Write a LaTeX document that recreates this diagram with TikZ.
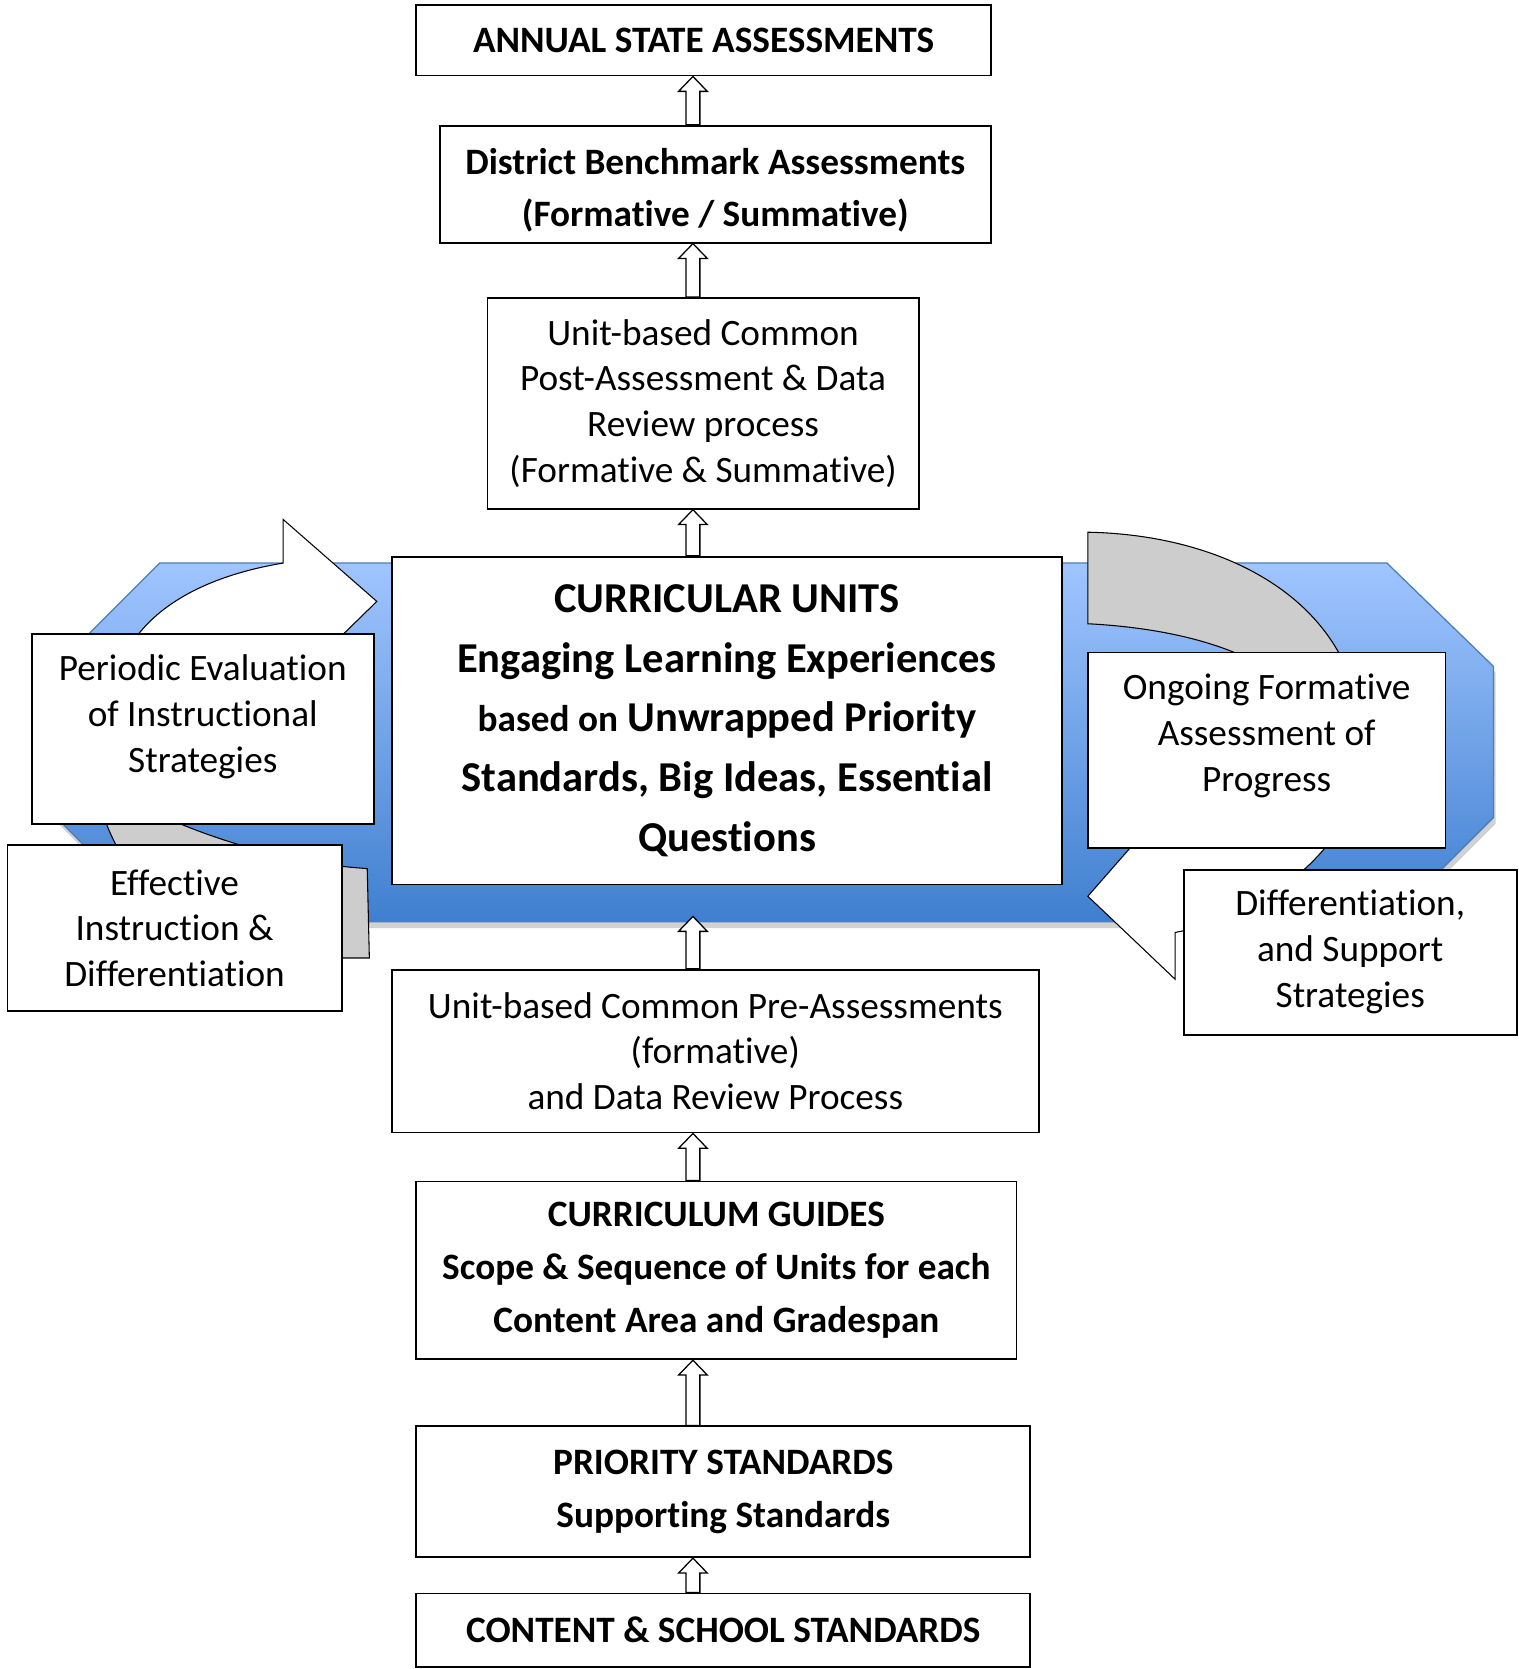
\documentclass[tikz,border=0pt]{standalone}
\usepackage{fontspec}
\setmainfont{Carlito}[Ligatures={NoCommon,NoContextual}]
\usetikzlibrary{calc,backgrounds}

\definecolor{bandtop}{RGB}{160,197,255}
\definecolor{bandbottom}{RGB}{63,127,207}
\definecolor{bandline}{RGB}{74,126,187}
\definecolor{backarc}{RGB}{205,205,205}

\begin{document}
\begin{tikzpicture}[x=1pt,y=1pt,
    every node/.style={font=\fontsize{35}{43}\selectfont},
    level/.style={rectangle,draw,line width=1.7pt,fill=white,align=center,inner sep=0pt},
    headline/.style={level,font=\fontsize{35}{49.5}\selectfont\bfseries},
    side/.style={rectangle,draw,line width=1.7pt,fill=white,align=center,inner sep=0pt},
    hollow/.style={draw,line width=1.2pt,fill=white,
        to path={let \p1=(\tikztostart), \p2=(\tikztotarget) in
            (\x1-6.5pt,\y1) -- (\x1-6.5pt,\y2-14pt) -- (\x1-13.5pt,\y2-14pt) -- (\x1,\y2)
            -- (\x1+13.5pt,\y2-14pt) -- (\x1+6.5pt,\y2-14pt) -- (\x1+6.5pt,\y1) -- cycle}},
    backpart/.style={draw,line width=1pt,fill=backarc},
    frontpart/.style={draw,line width=1pt,fill=white}
]
\useasboundingbox (0,0) rectangle (1427,-1568);

% Assessment levels
\node[headline,minimum width=540pt,minimum height=66pt] (annual) at (661,-38) {ANNUAL STATE ASSESSMENTS};
\node[headline,minimum width=518pt,minimum height=110pt] (district) at (672,-173) {\rule{0pt}{36pt}District Benchmark Assessments\\(Formative / Summative)};
\node[level,minimum width=405pt,minimum height=198pt] (post) at (660.5,-379) {Unit-based Common\\Post-Assessment \& Data\\Review process\\(Formative \& Summative)};

% Curricular units
\node[level,minimum width=630pt,minimum height=308pt,font=\fontsize{40}{56}\selectfont\bfseries] (units) at (683,-677)
    {CURRICULAR UNITS\\Engaging Learning Experiences\\{\fontsize{35}{56}\selectfont based on} Unwrapped Priority\\Standards, Big Ideas, Essential\\Questions};

% Curriculum levels
\node[level,minimum width=608pt,minimum height=153pt] (pre) at (672,-987.5) {Unit-based Common Pre-Assessments\\(formative)\\and Data Review Process};
\node[headline,minimum width=564pt,minimum height=167pt] (guides) at (673,-1193.5) {CURRICULUM GUIDES\\Scope \& Sequence of Units for each\\Content Area and Gradespan};
\node[headline,minimum width=577pt,minimum height=123pt] (priority) at (679.5,-1401.5) {PRIORITY STANDARDS\\Supporting Standards};
\node[headline,minimum width=577pt,minimum height=69pt] (content) at (679.5,-1531.5) {CONTENT \& SCHOOL STANDARDS};

% Cycle boxes
\node[side,minimum width=321pt,minimum height=178pt] (periodic) at (190.5,-685) {Periodic Evaluation\\of Instructional\\Strategies\rule[-29pt]{0pt}{29pt}};
\node[side,minimum width=314pt,minimum height=156pt] (effective) at (164,-872) {Effective\\Instruction \&\\Differentiation};
\node[side,minimum width=336pt,minimum height=184pt] (ongoing) at (1190,-705) {Ongoing Formative\\Assessment of\\Progress\rule[-33pt]{0pt}{33pt}};
\node[side,minimum width=313pt,minimum height=155pt] (support) at (1268.5,-894.5) {Differentiation,\\and Support\\Strategies};

% Band and cycle arrows
\begin{scope}[on background layer]
\fill[black!18,shift={(2,-6)}] (150,-529) -- (1303,-529) -- (1403,-626) -- (1403,-768) -- (1305,-866) -- (150,-866) -- (53,-768) -- (53,-626) -- cycle;
\draw[bandline,line width=1.2pt,top color=bandtop,bottom color=bandbottom] (150,-529) -- (1303,-529) -- (1403,-626) -- (1403,-768) -- (1305,-866) -- (150,-866) -- (53,-768) -- (53,-626) -- cycle;
% left cycle
\draw[backpart] (86,-700) .. controls (86,-810) and (174,-900) .. (281,-900) -- (347,-900) -- (345,-816)
    .. controls (280,-812) and (210,-792) .. (160,-770) -- cycle;
\draw[frontpart] (266,-488) -- (354,-565) -- (310,-608) -- (300,-640) -- (120,-640) -- (124,-604)
    .. controls (150,-565) and (200,-540) .. (266,-529) -- cycle;
% right cycle
\draw[backpart] (1022,-500) .. controls (1130,-502) and (1230,-545) .. (1266,-630) -- (1185,-625)
    .. controls (1140,-600) and (1080,-589) .. (1022,-586) -- cycle;
\draw[frontpart] (1022,-842) -- (1104,-920) -- (1104,-876) .. controls (1165,-865) and (1220,-830) .. (1250,-790)
    -- (1250,-770) -- (1085,-770) -- cycle;
\end{scope}

% Upward arrows
\coordinate (spine) at (651,0);
\coordinate (bandedge) at (651,-861);
\draw[hollow] (district.north -| spine) to (annual.south -| spine);
\draw[hollow] (post.north -| spine) to (district.south -| spine);
\draw[hollow] (units.north -| spine) to (post.south -| spine);
\draw[hollow] (pre.north -| spine) to (bandedge);
\draw[hollow] (guides.north -| spine) to (pre.south -| spine);
\draw[hollow] (priority.north -| spine) to (guides.south -| spine);
\draw[hollow] (content.north -| spine) to (priority.south -| spine);

\end{tikzpicture}
\end{document}
